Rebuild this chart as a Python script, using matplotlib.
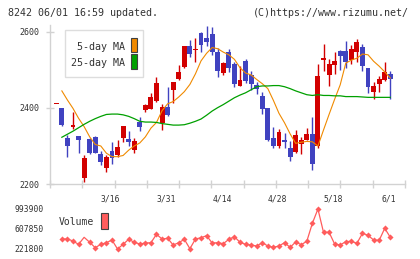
import numpy as np
import matplotlib
matplotlib.use("Agg")
import matplotlib.pyplot as plt
from matplotlib.patches import Rectangle
from matplotlib.transforms import blended_transform_factory

# ---------------- data ----------------
opens = [2410, 2399, 2320, 2351, 2326, 2217, 2318, 2324, 2278, 2241, 2287, 2277, 2322, 2318, 2289,
         2363, 2394, 2397, 2418, 2361, 2403, 2447, 2476, 2508, 2563, 2553, 2597, 2583, 2595, 2547,
         2491, 2547, 2515, 2459, 2524, 2487, 2461, 2432, 2400, 2320, 2301, 2316, 2294, 2283, 2304,
         2316, 2332, 2301, 2527, 2487, 2514, 2550, 2550, 2525, 2548, 2561, 2505, 2443, 2463, 2474, 2489]
highs = [2410, 2399, 2329, 2389, 2326, 2276, 2320, 2326, 2287, 2276, 2311, 2316, 2353, 2340, 2322,
         2375, 2411, 2439, 2482, 2410, 2454, 2468, 2513, 2563, 2579, 2583, 2599, 2615, 2614, 2557,
         2522, 2555, 2522, 2511, 2529, 2497, 2469, 2441, 2400, 2349, 2344, 2335, 2313, 2341, 2324,
         2347, 2376, 2515, 2568, 2529, 2547, 2553, 2575, 2566, 2582, 2568, 2505, 2468, 2484, 2521, 2497]
lows = [2410, 2352, 2272, 2346, 2282, 2206, 2280, 2281, 2250, 2232, 2252, 2272, 2311, 2301, 2281,
        2340, 2389, 2397, 2415, 2343, 2379, 2414, 2473, 2506, 2535, 2522, 2548, 2564, 2540, 2482,
        2487, 2496, 2456, 2459, 2465, 2447, 2436, 2383, 2313, 2296, 2296, 2294, 2261, 2281, 2280,
        2316, 2236, 2294, 2497, 2458, 2489, 2500, 2504, 2517, 2522, 2498, 2440, 2424, 2443, 2471, 2424]
closes = [2410, 2355, 2301, 2356, 2317, 2268, 2282, 2282, 2259, 2271, 2268, 2297, 2353, 2311, 2312,
          2349, 2408, 2429, 2465, 2403, 2382, 2468, 2495, 2563, 2541, 2555, 2566, 2573, 2547, 2498,
          2518, 2506, 2464, 2474, 2471, 2462, 2451, 2398, 2317, 2301, 2336, 2310, 2272, 2329, 2315,
          2331, 2252, 2484, 2532, 2515, 2524, 2537, 2522, 2555, 2573, 2511, 2454, 2459, 2476, 2495, 2476]

# moving averages and volume, shown from the 2nd candle on
ma5 = [2445, 2421, 2399, 2373, 2351, 2324, 2304, 2300, 2281, 2272,
       2272, 2275, 2289, 2300, 2308, 2324, 2347, 2362, 2393, 2411,
       2417, 2429, 2443, 2462, 2490, 2524, 2544, 2559, 2556, 2547,
       2540, 2528, 2506, 2492, 2487, 2475, 2464, 2451, 2420, 2386,
       2361, 2332, 2307, 2310, 2312, 2311, 2300, 2342, 2383, 2423,
       2461, 2518, 2526, 2531, 2542, 2540, 2523, 2510, 2495, 2479]
ma25 = [2323, 2331, 2339, 2348, 2357, 2365, 2372, 2378, 2383, 2384,
        2384, 2382, 2378, 2372, 2365, 2363, 2363, 2362, 2359, 2357,
        2355, 2355, 2356, 2360, 2365, 2371, 2381, 2392, 2401, 2409,
        2418, 2427, 2434, 2440, 2448, 2456, 2458, 2458, 2459, 2459,
        2456, 2451, 2445, 2440, 2435, 2433, 2435, 2433, 2433, 2432,
        2432, 2430, 2430, 2430, 2429, 2428, 2428, 2428, 2428, 2428]
volume = [414800, 414800, 376200, 312000, 447600, 351000, 247500, 312000, 343400, 395500,
          221800, 312000, 409000, 351000, 318300, 337600, 343400, 505500, 414800, 428400,
          299000, 343400, 409000, 227600, 414800, 440000, 478500, 337600, 343400, 325000,
          409000, 459000, 351000, 312000, 299000, 279700, 343400, 279700, 254600, 279700,
          343400, 254600, 356900, 305000, 370400, 717900, 993900, 544200, 544200, 318300,
          299000, 363900, 370400, 331000, 524600, 486000, 395500, 389000, 621400, 447600]

date_labels = ["3/16", "3/31", "4/14", "4/28", "5/18", "6/1"]
date_index = [10, 20, 30, 40, 50, 60]
price_ticks = [2200, 2400, 2600]
vol_ticks = [221800, 607850, 993900]

title_left = "8242 06/01 16:59 updated."
title_right = "(C)https://www.rizumu.net/"

# ---------------- styling ----------------
W, H = 420, 259
RED = "#d20000"
BLUE = "#4042c0"
ORANGE = "#f08a00"
GREEN = "#00a000"
VOLC = "#ff5c5c"
AXC = "#d2d2d2"
TXT = "#333333"
FONT = "DejaVu Sans Mono"

plt.rcParams["font.family"] = FONT

fig = plt.figure(figsize=(W / 100, H / 100), dpi=100)
fig.patch.set_facecolor("white")


def rect(l, t, r, b):
    return [l / W, 1 - b / H, (r - l) / W, (b - t) / H]


def fx(px):
    return px / W


def fy(py):
    return 1 - py / H


n = len(closes)
x = np.arange(n)
xmin, xmax = -1.13, 62.64

# ---------------- main panel ----------------
ax = fig.add_axes(rect(50, 25, 405, 184))
ax.set_xlim(xmin, xmax)
ax.set_ylim(2200, 2618.4)
for s in ["top", "right"]:
    ax.spines[s].set_visible(False)
for s in ["left", "bottom"]:
    ax.spines[s].set_color(AXC)
    ax.spines[s].set_linewidth(1.0)

ax.set_yticks(price_ticks)
ax.set_yticklabels([str(t) for t in price_ticks])
ax.tick_params(axis="y", direction="inout", length=6, width=1, color=AXC,
               labelsize=6, labelcolor=TXT, pad=4.5)
ax.set_xticks(np.linspace(xmin, xmax, 12))
ax.set_xticklabels([])
ax.tick_params(axis="x", direction="inout", length=5.5, width=1, color=AXC)

width = 0.88
min_h = 2.6
for i in range(n):
    o, h, l, c = opens[i], highs[i], lows[i], closes[i]
    col = RED if c >= o else BLUE
    ax.vlines(x[i], l, h, color=col, linewidth=1.0, zorder=2)
    bot = min(o, c)
    hgt = max(abs(c - o), min_h)
    ax.bar(x[i], hgt, width=width, bottom=bot, color=col, linewidth=0, zorder=3)

xm = x[1:]
ax.plot(xm, ma5, color=ORANGE, linewidth=0.8, zorder=4)
ax.plot(xm, ma25, color=GREEN, linewidth=0.9, zorder=4)

# date labels
tr = blended_transform_factory(ax.transData, fig.transFigure)
for idx, lab in zip(date_index, date_labels):
    ax.text(idx - 0.25, fy(198.5), lab, transform=tr, ha="center", va="center",
            fontsize=5.8, color=TXT)

# legend of main panel
fig.patches.append(Rectangle((fx(65), fy(77)), fx(143) - fx(65), fy(30) - fy(77),
                             transform=fig.transFigure, facecolor="white",
                             edgecolor="#dddddd", linewidth=1.0, zorder=5))
fig.text(fx(125), fy(46.7), "5-day MA", ha="right", va="center", fontsize=7.2, color=TXT, zorder=6)
fig.text(fx(125), fy(63.3), "25-day MA", ha="right", va="center", fontsize=7.2, color=TXT, zorder=6)
fig.patches.append(Rectangle((fx(131.3), fy(51.7)), fx(137.3) - fx(131.3), fy(37.7) - fy(51.7),
                             transform=fig.transFigure, facecolor=ORANGE,
                             edgecolor="#404040", linewidth=0.8, zorder=6))
fig.patches.append(Rectangle((fx(131.3), fy(69)), fx(137.3) - fx(131.3), fy(54.3) - fy(69),
                             transform=fig.transFigure, facecolor=GREEN,
                             edgecolor="#404040", linewidth=0.8, zorder=6))

# ---------------- volume panel ----------------
axv = fig.add_axes(rect(50, 203, 405, 255))
axv.set_xlim(xmin, xmax)
per_px = (vol_ticks[2] - vol_ticks[0]) / 40.0
axv.set_ylim(vol_ticks[0] - 6 * per_px, vol_ticks[2] + 6 * per_px)
for s in axv.spines.values():
    s.set_visible(False)
axv.set_xticks([])
axv.set_yticks(vol_ticks)
axv.set_yticklabels([str(t) for t in vol_ticks])
axv.tick_params(axis="y", length=0, labelsize=5.8, labelcolor=TXT, pad=4.3)
axv.patch.set_alpha(0)

mark_idx = [k for k in range(len(volume)) if k != 4]
axv.plot(xm, volume, color=VOLC, linewidth=0.9, marker="D", markersize=3.1,
         markeredgewidth=0, markerfacecolor=VOLC, markevery=mark_idx)

fig.text(fx(58.3), fy(222.3), "Volume", ha="left", va="center", fontsize=7, color=TXT)
fig.patches.append(Rectangle((fx(101), fy(229)), fx(107.7) - fx(101), fy(213.3) - fy(229),
                             transform=fig.transFigure, facecolor=VOLC,
                             edgecolor="#404040", linewidth=0.8, zorder=6))

# ---------------- header ----------------
fig.text(fx(8), fy(12.7), title_left, ha="left", va="center", fontsize=7.2, color=TXT)
fig.text(fx(409), fy(12.7), title_right, ha="right", va="center", fontsize=7.2, color=TXT)

fig.savefig("out.png", dpi=100, facecolor="white")
